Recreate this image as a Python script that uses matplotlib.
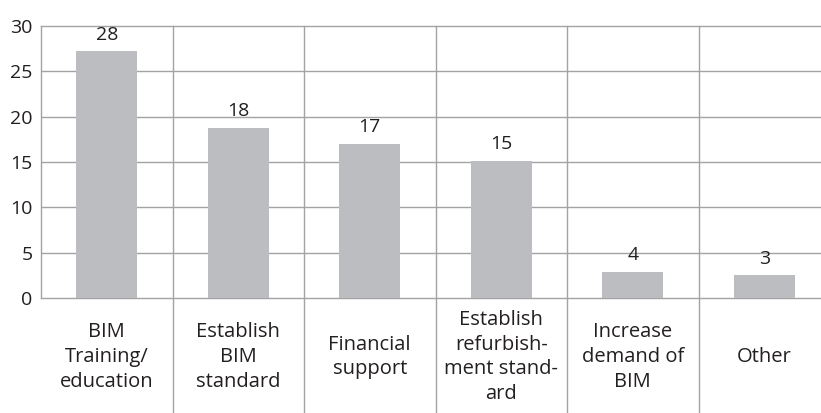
import matplotlib
matplotlib.use("Agg")
import matplotlib.pyplot as plt
import numpy as np

# survey answers, bar heights as drawn and the printed counts
categories = ["BIM\nTraining/\neducation", "Establish\nBIM\nstandard", "Financial\nsupport",
              "Establish\nrefurbish-\nment stand-\nard", "Increase\ndemand of\nBIM", "Other"]
heights = [27.2, 18.8, 17.0, 15.1, 2.9, 2.5]
counts = ["28", "18", "17", "15", "4", "3"]
yticks = [0, 5, 10, 15, 20, 25, 30]

bar_color = "#bcbdc0"
grid_color = "#a3a3a3"
text_color = "#231f20"

plt.rcParams['font.family'] = ['Open Sans', 'DejaVu Sans']

fig = plt.figure(figsize=(8.21, 4.13), dpi=100, facecolor='white')
ax = fig.add_axes([41/821, 115/413, 789/821, 272/413])

x = np.arange(len(categories))
ax.bar(x, heights, width=0.465, color=bar_color, zorder=3)

for xi, h, c in zip(x, heights, counts):
	ax.annotate(c, (xi, h), xytext=(0, 12), textcoords='offset points',
	            ha='center', va='center', fontsize=14, color=text_color, zorder=4)

ax.set_xlim(-0.5, len(categories) - 0.5)
ax.set_ylim(0, 30)
ax.set_yticks(yticks)
ax.set_yticklabels([str(t) for t in yticks], fontsize=14, color=text_color)
ax.tick_params(axis='y', length=0, pad=6)
ax.set_xticks([])

# horizontal grid
for t in yticks[1:-1]:
	ax.axhline(t, color=grid_color, lw=1.0, zorder=1)

# category separators, running down through the label area
for b in np.arange(0.5, len(categories) - 0.5):
	ax.axvline(b, ymin=-0.423, ymax=1, color=grid_color, lw=1.0, zorder=1, clip_on=False)

for s in ['left', 'bottom', 'top']:
	ax.spines[s].set_color(grid_color)
	ax.spines[s].set_linewidth(1.0)
ax.spines['right'].set_visible(False)

trans = matplotlib.transforms.blended_transform_factory(ax.transData, ax.transAxes)
for xi, lab in zip(x, categories):
	ax.text(xi, -0.217, lab, transform=trans, ha='center', va='center',
	        fontsize=14.5, color=text_color, linespacing=1.32)

fig.savefig("out.png", dpi=100, facecolor='white')
